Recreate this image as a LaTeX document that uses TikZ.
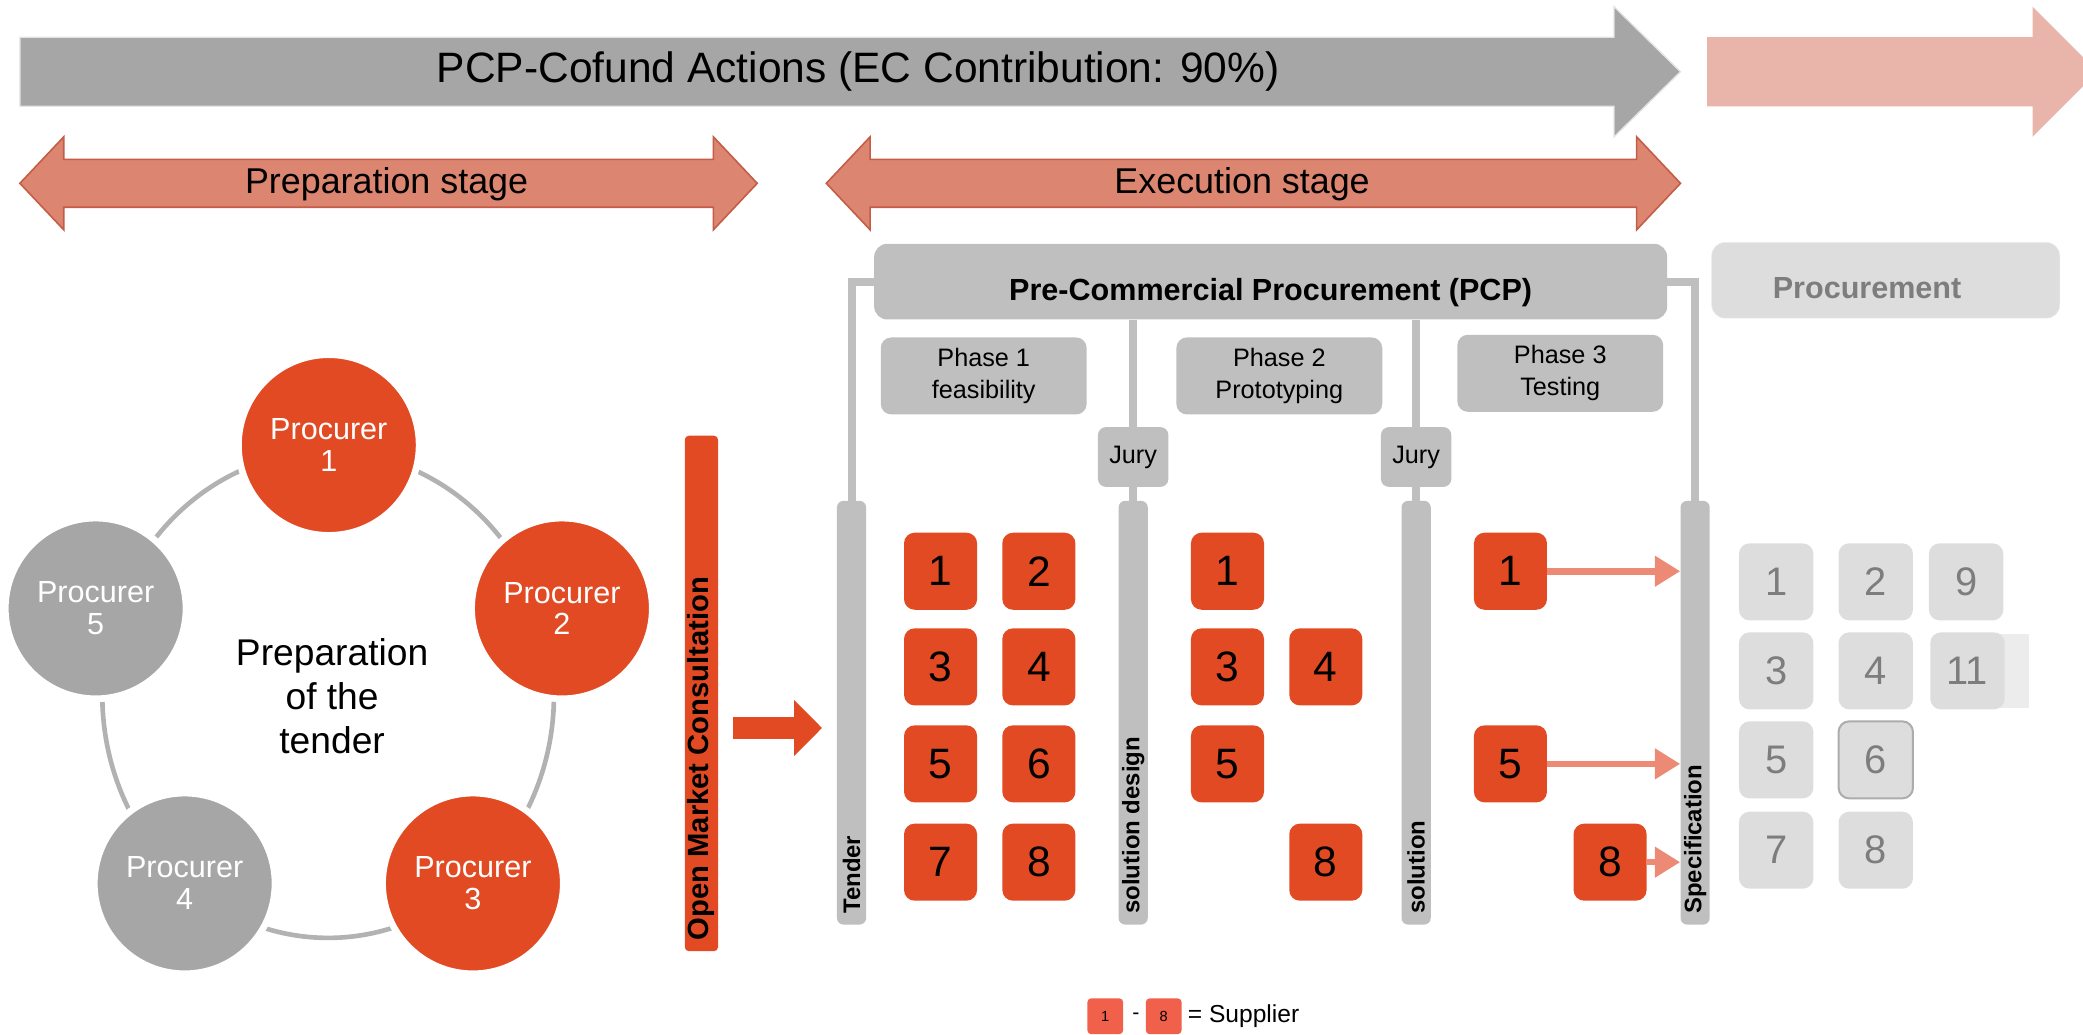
\documentclass[tikz,border=0pt]{standalone}
\usepackage{fontspec}
\setmainfont{Liberation Sans}
\usetikzlibrary{arrows.meta}

\definecolor{pcporange}{RGB}{226,74,36}
\definecolor{stagefill}{RGB}{220,134,113}
\definecolor{stageline}{RGB}{196,92,70}
\definecolor{cofundgray}{RGB}{166,166,166}
\definecolor{nextpink}{RGB}{233,181,171}
\definecolor{pcpgray}{RGB}{191,191,191}
\definecolor{procgray}{RGB}{221,221,221}
\definecolor{proctext}{RGB}{125,125,125}
\definecolor{winpink}{RGB}{236,138,117}
\definecolor{ringgray}{RGB}{178,178,178}
\definecolor{legendred}{RGB}{240,96,74}

\newcommand{\fsz}[2]{\fontsize{#1}{#2}\selectfont}

\begin{document}
\begin{tikzpicture}[x=1pt,y=-1pt]
    \tikzstyle{every node}=[inner sep=0pt];
    \tikzstyle{supplier}=[fill=pcporange,rounded corners=8pt,minimum width=55pt,minimum height=58pt,font=\fsz{32}{32}];
    \tikzstyle{offer}=[fill=procgray,rounded corners=8pt,minimum width=56pt,minimum height=58pt,text=proctext,font=\fsz{30}{30}];
    \tikzstyle{phasebox}=[fill=pcpgray,rounded corners=8pt,minimum width=155pt,minimum height=58pt,align=center,font=\fsz{19}{24}];
    \tikzstyle{jurybox}=[fill=pcpgray,rounded corners=6pt,minimum width=53pt,minimum height=45pt,font=\fsz{19}{19}];
    \tikzstyle{headbox}=[rounded corners=10pt,minimum height=57pt,text height=33pt,text depth=5pt,font=\bfseries\fsz{23}{23}];
    \tikzstyle{gate}=[fill=pcpgray,rounded corners=5pt,minimum width=22pt,minimum height=319pt];
    \tikzstyle{gatelabel}=[rotate=90,anchor=west,font=\bfseries\fsz{18}{18}];
    \tikzstyle{procurer}=[circle,minimum size=136pt,draw=white,line width=5pt,text=white,align=center,font=\fsz{23}{24}];
    \tikzstyle{legendbox}=[fill=legendred,rounded corners=3pt,minimum width=27pt,minimum height=27pt,font=\fsz{11}{11}];
    \tikzstyle{link}=[draw=pcpgray,line width=6pt];
    \tikzstyle{winner}=[draw=winpink,line width=5pt,-{Triangle[length=19pt,width=22pt]}];

    \useasboundingbox (0, 0) rectangle (1568, 779);

    \filldraw[fill=cofundgray,draw=white!70!cofundgray,line width=1pt] (15, 28) -- (1215, 28) -- (1215, 5) -- (1265, 54) -- (1215, 103) -- (1215, 80) -- (15, 80) -- cycle;
    \node at (646, 54) (cofund) [font=\fsz{32}{32}] {PCP-Cofund Actions (EC Contribution: 90\%)};
    \fill[nextpink] (1285, 28) -- (1530, 28) -- (1530, 5) -- (1579, 54) -- (1530, 103) -- (1530, 80) -- (1285, 80) -- cycle;

    \filldraw[fill=stagefill,draw=stageline,line width=1.2pt] (15, 138) -- (48, 103) -- (48, 120) -- (537, 120) -- (537, 103) -- (570, 138) -- (537, 173) -- (537, 156) -- (48, 156) -- (48, 173) -- cycle;
    \node at (291, 139) (prepstage) [font=\fsz{27}{27}] {Preparation stage};
    \filldraw[fill=stagefill,draw=stageline,line width=1.2pt] (622, 138) -- (655, 103) -- (655, 120) -- (1232, 120) -- (1232, 103) -- (1265, 138) -- (1232, 173) -- (1232, 156) -- (655, 156) -- (655, 173) -- cycle;
    \node at (935, 139) (execstage) [font=\fsz{27}{27}] {Execution stage};

    \draw[ringgray,line width=3.5pt] (247, 523) ellipse [x radius=170pt, y radius=183pt];
    \node at (247.5, 335) (proc1) [procurer,fill=pcporange] {Procurer\\1};
    \node at (423, 458) (proc2) [procurer,fill=pcporange] {Procurer\\2};
    \node at (356, 665) (proc3) [procurer,fill=pcporange] {Procurer\\3};
    \node at (139, 665) (proc4) [procurer,fill=cofundgray] {Procurer\\4};
    \node at (72, 458) (proc5) [procurer,fill=cofundgray] {Procurer\\5};
    \node at (250, 524) (tenderprep) [align=center,font=\fsz{28}{33}] {Preparation\\of the\\tender};

    \node at (528, 522) (omc) [fill=pcporange,rounded corners=3pt,minimum width=25pt,minimum height=388pt] {};
    \node at (528, 708) (omclabel) [rotate=90,anchor=west,font=\bfseries\fsz{22}{22}] {Open Market Consultation};

    \node at (956.5, 212) (pcp) [headbox,fill=pcpgray,minimum width=597pt] {Pre-Commercial Procurement (PCP)};
    \node at (1419.5, 211) (proc) [headbox,fill=procgray,draw=white!85!gray,text width=170pt,align=left,inner xsep=46pt,text=proctext] {Procurement};

    \node at (740.5, 283) (phase1) [phasebox] {Phase 1\\feasibility};
    \node at (963, 283) (phase2) [phasebox] {Phase 2\\Prototyping};
    \node at (1174.5, 281) (phase3) [phasebox] {Phase 3\\Testing};
    \node at (853, 344) (jury1) [jurybox] {Jury};
    \node at (1066, 344) (jury2) [jurybox] {Jury};

    \node at (641, 536.5) (tender) [gate] {};
    \node at (853, 536.5) (soldesign) [gate] {};
    \node at (1066, 536.5) (solution) [gate] {};
    \node at (1276, 536.5) (spec) [gate] {};
    \node at (641, 688) (tenderlabel) [gatelabel] {Tender};
    \node at (853, 688) (soldesignlabel) [gatelabel] {solution design};
    \node at (1066, 688) (solutionlabel) [gatelabel] {solution};
    \node at (1276, 688) (speclabel) [gatelabel] {Specification};

    \draw[link] (pcp.west) -| (tender.north);
    \draw[link] (pcp.east) -| (spec.north);
    \draw[link] (pcp.south -| jury1) -- (jury1.north);
    \draw[link] (jury1.south) -- (soldesign.north);
    \draw[link] (pcp.south -| jury2) -- (jury2.north);
    \draw[link] (jury2.south) -- (solution.north);

    \coordinate (omcout) at (552, 548);
    \draw[pcporange,line width=17pt,shorten >=11pt,-{Triangle[length=21pt,width=41pt]}] (omcout) -- (omcout -| tender.west);

    \node at (708, 430) (p1s1) [supplier] {1};
    \node at (782, 430) (p1s2) [supplier] {2};
    \node at (708, 502) (p1s3) [supplier] {3};
    \node at (782, 502) (p1s4) [supplier] {4};
    \node at (708, 575) (p1s5) [supplier] {5};
    \node at (782, 575) (p1s6) [supplier] {6};
    \node at (708, 649) (p1s7) [supplier] {7};
    \node at (782, 649) (p1s8) [supplier] {8};

    \node at (924, 430) (p2s1) [supplier] {1};
    \node at (924, 502) (p2s3) [supplier] {3};
    \node at (998, 502) (p2s4) [supplier] {4};
    \node at (924, 575) (p2s5) [supplier] {5};
    \node at (998, 649) (p2s8) [supplier] {8};

    \node at (1137, 430) (p3s1) [supplier] {1};
    \node at (1137, 575) (p3s5) [supplier] {5};
    \node at (1212, 649) (p3s8) [supplier] {8};

    \draw[winner] (p3s1.east) -- (p3s1 -| spec.west);
    \draw[winner] (p3s5.east) -- (p3s5 -| spec.west);
    \draw[winner] (p3s8.east) -- (p3s8 -| spec.west);

    \fill[procgray!55] (1505, 477) rectangle (1527, 533);
    \node at (1337, 438) (o1) [offer] {1};
    \node at (1412, 438) (o2) [offer] {2};
    \node at (1480, 438) (o9) [offer] {9};
    \node at (1337, 505) (o3) [offer] {3};
    \node at (1412, 505) (o4) [offer] {4};
    \node at (1481, 505) (o11) [offer] {11};
    \node at (1337, 572) (o5) [offer] {5};
    \node at (1412, 572) (o6) [offer,draw=gray!65,line width=1.5pt] {6};
    \node at (1337, 640) (o7) [offer] {7};
    \node at (1412, 640) (o8) [offer] {8};

    \node at (832, 765) (legend1) [legendbox] {1};
    \node at (855, 765) (legenddash) [font=\fsz{16}{16}] {-};
    \node at (876, 765) (legend8) [legendbox] {8};
    \node at (894, 765) (legendtext) [anchor=west,font=\fsz{18.5}{18.5}] {= Supplier};
\end{tikzpicture}
\end{document}
